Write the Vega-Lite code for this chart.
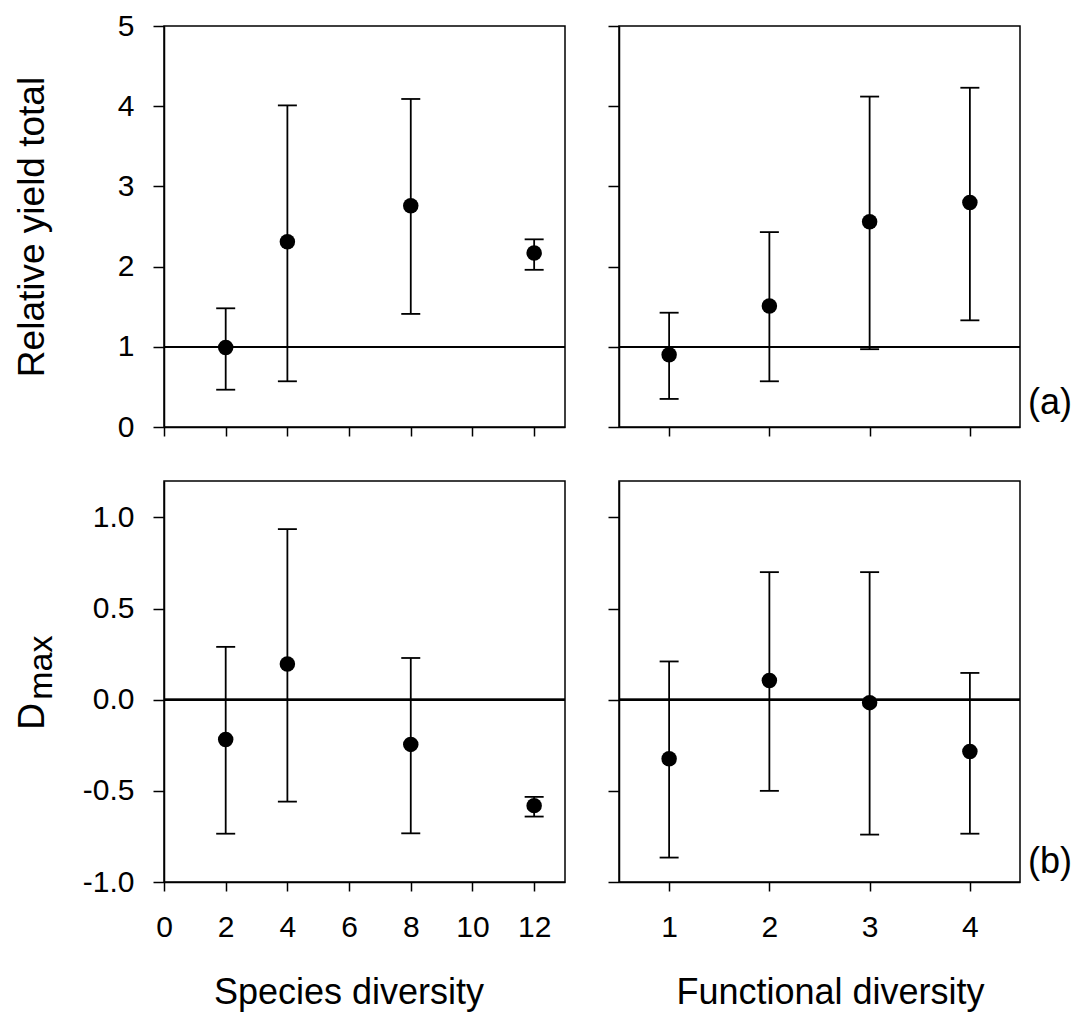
{
  "$schema": "https://vega.github.io/schema/vega-lite/v6.json",
  "padding": {"left": 12, "top": 10, "right": 0, "bottom": 0},
  "background": "white",
  "config": {
    "font": "Liberation Sans",
    "view": {"stroke": "black", "strokeWidth": 1.5},
    "axis": {
      "grid": false, "domainColor": "black", "domainWidth": 1.5, "tickColor": "black", "tickWidth": 1.5,
      "labelFont": "Liberation Sans", "labelFontSize": 30, "labelColor": "black", "labelFlush": false, "labelOverlap": false,
      "titleFont": "Liberation Sans", "titleFontSize": 37, "titleFontWeight": "normal", "titleColor": "black"
    },
    "axisX": {"tickSize": 9, "labelPadding": 21},
    "axisY": {"tickSize": 11, "labelPadding": 19},
    "text": {"font": "Liberation Sans", "color": "black"}
  },
  "datasets": {
    "ryt_sp": [
      {"div": 2, "mean": 0.99, "lower": 0.465, "upper": 1.48},
      {"div": 4, "mean": 2.31, "lower": 0.57, "upper": 4.01},
      {"div": 8, "mean": 2.76, "lower": 1.41, "upper": 4.09},
      {"div": 12, "mean": 2.17, "lower": 1.96, "upper": 2.34}
    ],
    "ryt_fd": [
      {"div": 1, "mean": 0.9, "lower": 0.35, "upper": 1.425},
      {"div": 2, "mean": 1.51, "lower": 0.57, "upper": 2.43},
      {"div": 3, "mean": 2.56, "lower": 0.97, "upper": 4.12},
      {"div": 4, "mean": 2.8, "lower": 1.33, "upper": 4.23}
    ],
    "dmax_sp": [
      {"div": 2, "mean": -0.218, "lower": -0.735, "upper": 0.29},
      {"div": 4, "mean": 0.196, "lower": -0.559, "upper": 0.936},
      {"div": 8, "mean": -0.245, "lower": -0.733, "upper": 0.229},
      {"div": 12, "mean": -0.581, "lower": -0.641, "upper": -0.533}
    ],
    "dmax_fd": [
      {"div": 1, "mean": -0.324, "lower": -0.866, "upper": 0.21},
      {"div": 2, "mean": 0.105, "lower": -0.5, "upper": 0.7},
      {"div": 3, "mean": -0.016, "lower": -0.74, "upper": 0.7},
      {"div": 4, "mean": -0.284, "lower": -0.735, "upper": 0.147}
    ]
  },
  "columns": 2,
  "spacing": 54,
  "bounds": "flush",
  "concat": [
    {
      "width": 401, "height": 401,
      "data": {"name": "ryt_sp"},
      "layer": [
        {"mark": {"type": "rule", "color": "black", "strokeWidth": 1.8}, "encoding": {"y": {"datum": 1, "type": "quantitative"}}},
        {"mark": {"type": "rule", "color": "black", "strokeWidth": 1.8},
         "encoding": {
           "x": {"field": "div", "type": "quantitative", "scale": {"domain": [0, 13], "nice": false, "zero": false}, "axis": {"values": [0, 2, 4, 6, 8, 10, 12], "labels": false, "title": null}},
           "y": {"field": "lower", "type": "quantitative", "scale": {"domain": [0, 5], "nice": false}, "axis": {"values": [0, 1, 2, 3, 4, 5], "format": "d", "title": "Relative yield total", "titleX": -121, "titleY": 200.5, "titleBaseline": "alphabetic", "titleAlign": "center", "titleAngle": 270}},
           "y2": {"field": "upper"}}},
        {"mark": {"type": "tick", "orient": "horizontal", "color": "black", "size": 19, "thickness": 1.8, "opacity": 1},
         "encoding": {"x": {"field": "div", "type": "quantitative"}, "y": {"field": "lower", "type": "quantitative"}}},
        {"mark": {"type": "tick", "orient": "horizontal", "color": "black", "size": 19, "thickness": 1.8, "opacity": 1},
         "encoding": {"x": {"field": "div", "type": "quantitative"}, "y": {"field": "upper", "type": "quantitative"}}},
        {"mark": {"type": "circle", "color": "black", "size": 240, "opacity": 1},
         "encoding": {"x": {"field": "div", "type": "quantitative"}, "y": {"field": "mean", "type": "quantitative"}}}
      ]
    },
    {
      "width": 401, "height": 401,
      "data": {"name": "ryt_fd"},
      "layer": [
        {"mark": {"type": "rule", "color": "black", "strokeWidth": 1.8}, "encoding": {"y": {"datum": 1, "type": "quantitative"}}},
        {"mark": {"type": "rule", "color": "black", "strokeWidth": 1.8},
         "encoding": {
           "x": {"field": "div", "type": "quantitative", "scale": {"domain": [0.5, 4.5], "nice": false, "zero": false}, "axis": {"values": [1, 2, 3, 4], "labels": false, "title": null}},
           "y": {"field": "lower", "type": "quantitative", "scale": {"domain": [0, 5], "nice": false}, "axis": {"values": [0, 1, 2, 3, 4, 5], "labels": false, "title": null}},
           "y2": {"field": "upper"}}},
        {"mark": {"type": "tick", "orient": "horizontal", "color": "black", "size": 19, "thickness": 1.8, "opacity": 1},
         "encoding": {"x": {"field": "div", "type": "quantitative"}, "y": {"field": "lower", "type": "quantitative"}}},
        {"mark": {"type": "tick", "orient": "horizontal", "color": "black", "size": 19, "thickness": 1.8, "opacity": 1},
         "encoding": {"x": {"field": "div", "type": "quantitative"}, "y": {"field": "upper", "type": "quantitative"}}},
        {"mark": {"type": "circle", "color": "black", "size": 240, "opacity": 1},
         "encoding": {"x": {"field": "div", "type": "quantitative"}, "y": {"field": "mean", "type": "quantitative"}}},
        {"data": {"values": [{"label": "(a)"}]},
         "mark": {"type": "text", "fontSize": 36, "align": "center", "baseline": "middle"},
         "encoding": {"x": {"datum": 4.8, "type": "quantitative"}, "y": {"datum": 0.3, "type": "quantitative"}, "text": {"field": "label"}}}
      ]
    },
    {
      "width": 401, "height": 401,
      "data": {"name": "dmax_sp"},
      "layer": [
        {"mark": {"type": "rule", "color": "black", "strokeWidth": 1.8}, "encoding": {"y": {"datum": 0, "type": "quantitative"}}},
        {"mark": {"type": "rule", "color": "black", "strokeWidth": 1.8},
         "encoding": {
           "x": {"field": "div", "type": "quantitative", "scale": {"domain": [0, 13], "nice": false, "zero": false}, "axis": {"values": [0, 2, 4, 6, 8, 10, 12], "format": "d", "title": "Species diversity", "titleFontSize": 36, "titleX": 184.5, "titleY": 121.7, "titleBaseline": "alphabetic", "titleAlign": "center"}},
           "y": {"field": "lower", "type": "quantitative", "scale": {"domain": [-1, 1.2], "nice": false, "zero": false}, "axis": {"values": [-1, -0.5, 0, 0.5, 1], "labelExpr": "replace(format(datum.value, '.1f'), '\u2212', '-')", "title": "D", "titleX": -121, "titleY": 235, "titleBaseline": "alphabetic", "titleAlign": "center", "titleAngle": 270}},
           "y2": {"field": "upper"}}},
        {"mark": {"type": "tick", "orient": "horizontal", "color": "black", "size": 19, "thickness": 1.8, "opacity": 1},
         "encoding": {"x": {"field": "div", "type": "quantitative"}, "y": {"field": "lower", "type": "quantitative"}}},
        {"mark": {"type": "tick", "orient": "horizontal", "color": "black", "size": 19, "thickness": 1.8, "opacity": 1},
         "encoding": {"x": {"field": "div", "type": "quantitative"}, "y": {"field": "upper", "type": "quantitative"}}},
        {"mark": {"type": "circle", "color": "black", "size": 240, "opacity": 1},
         "encoding": {"x": {"field": "div", "type": "quantitative"}, "y": {"field": "mean", "type": "quantitative"}}},
        {"data": {"values": [{"label": "max"}]},
         "mark": {"type": "text", "fontSize": 34, "angle": 270, "align": "center", "baseline": "alphabetic"},
         "encoding": {"x": {"datum": -3.64, "type": "quantitative"}, "y": {"datum": 0.176, "type": "quantitative"}, "text": {"field": "label"}}}
      ]
    },
    {
      "width": 401, "height": 401,
      "data": {"name": "dmax_fd"},
      "layer": [
        {"mark": {"type": "rule", "color": "black", "strokeWidth": 1.8}, "encoding": {"y": {"datum": 0, "type": "quantitative"}}},
        {"mark": {"type": "rule", "color": "black", "strokeWidth": 1.8},
         "encoding": {
           "x": {"field": "div", "type": "quantitative", "scale": {"domain": [0.5, 4.5], "nice": false, "zero": false}, "axis": {"values": [1, 2, 3, 4], "format": "d", "title": "Functional diversity", "titleFontSize": 36, "titleX": 211, "titleY": 121, "titleBaseline": "alphabetic", "titleAlign": "center"}},
           "y": {"field": "lower", "type": "quantitative", "scale": {"domain": [-1, 1.2], "nice": false, "zero": false}, "axis": {"values": [-1, -0.5, 0, 0.5, 1], "labels": false, "title": null}},
           "y2": {"field": "upper"}}},
        {"mark": {"type": "tick", "orient": "horizontal", "color": "black", "size": 19, "thickness": 1.8, "opacity": 1},
         "encoding": {"x": {"field": "div", "type": "quantitative"}, "y": {"field": "lower", "type": "quantitative"}}},
        {"mark": {"type": "tick", "orient": "horizontal", "color": "black", "size": 19, "thickness": 1.8, "opacity": 1},
         "encoding": {"x": {"field": "div", "type": "quantitative"}, "y": {"field": "upper", "type": "quantitative"}}},
        {"mark": {"type": "circle", "color": "black", "size": 240, "opacity": 1},
         "encoding": {"x": {"field": "div", "type": "quantitative"}, "y": {"field": "mean", "type": "quantitative"}}},
        {"data": {"values": [{"label": "(b)"}]},
         "mark": {"type": "text", "fontSize": 36, "align": "center", "baseline": "middle"},
         "encoding": {"x": {"datum": 4.8, "type": "quantitative"}, "y": {"datum": -0.89, "type": "quantitative"}, "text": {"field": "label"}}}
      ]
    }
  ]
}
